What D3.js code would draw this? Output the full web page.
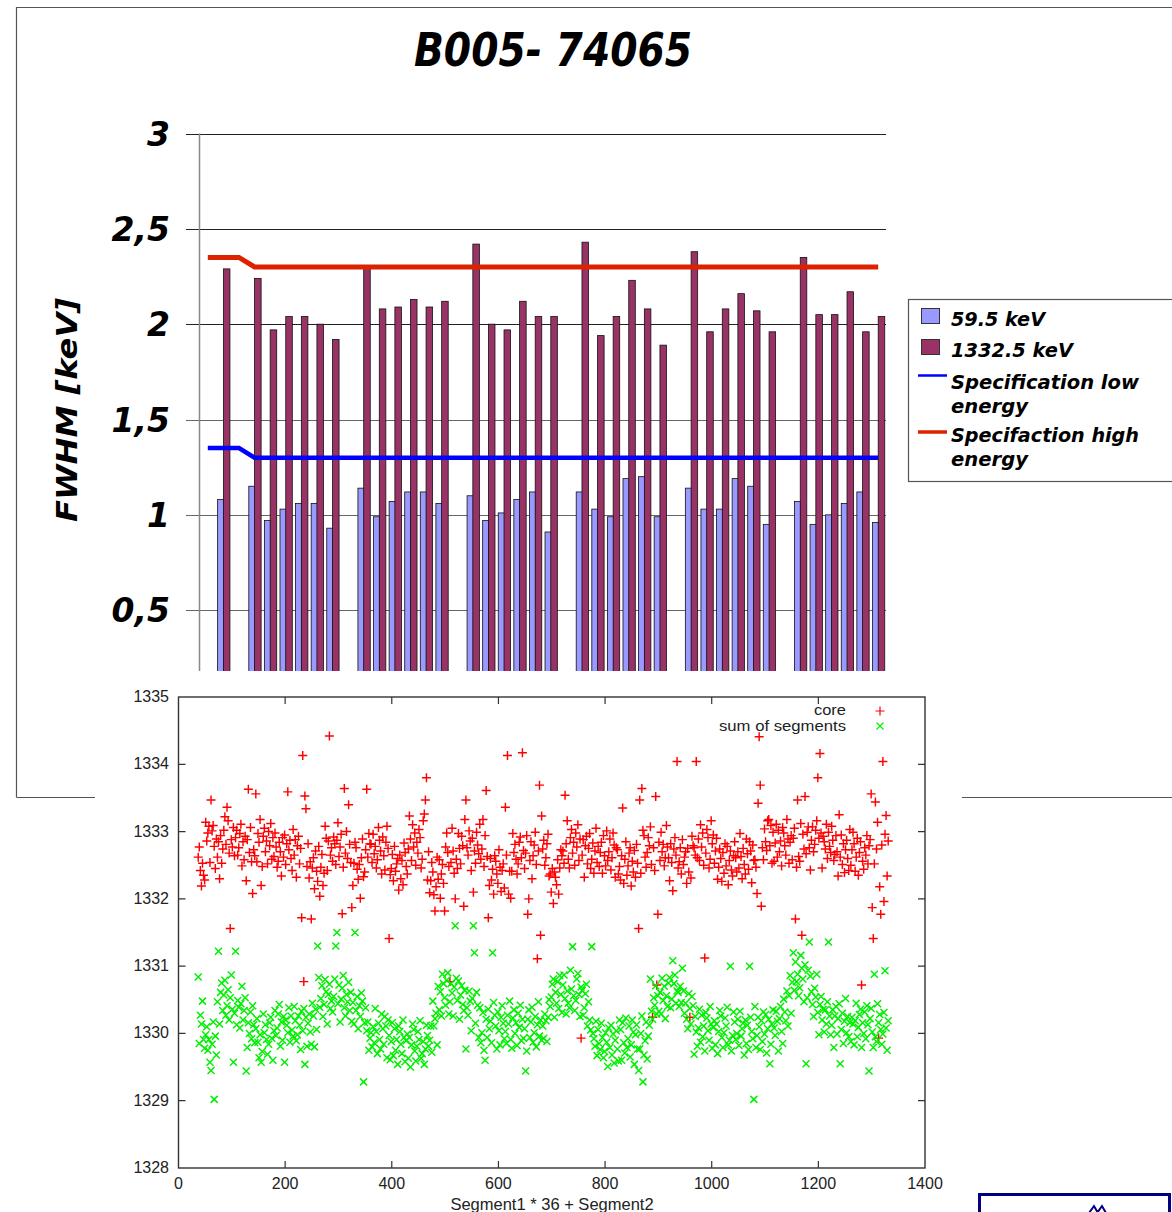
<!DOCTYPE html>
<html><head><meta charset="utf-8">
<script src="https://cdn.jsdelivr.net/npm/d3@7"></script>
<style>body{margin:0;background:#fff}svg{display:block}</style>
</head><body>
<svg id="c" width="1172" height="1212"></svg>
<script>
// ---------- top chart data (FWHM per channel) ----------
const slots = ["","core","","A1","A2","A3","A4","A5","A6","","B1","B2","B3","B4","B5","B6","","C1","C2","C3","C4","C5","C6","","D1","D2","D3","D4","D5","D6","","E1","E2","E3","E4","E5","E6","","F1","F2","F3","F4","F5","F6"];
const lowE = [null,1.08,null,1.15,0.97,1.03,1.06,1.06,0.93,null,1.14,0.99,1.07,1.12,1.12,1.06,null,1.10,0.97,1.01,1.08,1.12,0.91,null,1.12,1.03,0.99,1.19,1.20,0.99,null,1.14,1.03,1.03,1.19,1.15,0.95,null,1.07,0.95,1.00,1.06,1.12,0.96];
const highE = [null,2.29,null,2.24,1.97,2.04,2.04,2.00,1.92,null,2.30,2.08,2.09,2.13,2.09,2.12,null,2.42,2.00,1.97,2.12,2.04,2.04,null,2.43,1.94,2.04,2.23,2.08,1.89,null,2.38,1.96,2.08,2.16,2.07,1.96,null,2.35,2.05,2.05,2.17,1.96,2.04];
const specLow = [1.35,1.35,1.35,1.3,1.3,1.3,1.3,1.3,1.3,1.3,1.3,1.3,1.3,1.3,1.3,1.3,1.3,1.3,1.3,1.3,1.3,1.3,1.3,1.3,1.3,1.3,1.3,1.3,1.3,1.3,1.3,1.3,1.3,1.3,1.3,1.3,1.3,1.3,1.3,1.3,1.3,1.3,1.3,1.3];
const specHigh = [2.35,2.35,2.35,2.3,2.3,2.3,2.3,2.3,2.3,2.3,2.3,2.3,2.3,2.3,2.3,2.3,2.3,2.3,2.3,2.3,2.3,2.3,2.3,2.3,2.3,2.3,2.3,2.3,2.3,2.3,2.3,2.3,2.3,2.3,2.3,2.3,2.3,2.3,2.3,2.3,2.3,2.3,2.3,2.3];
const yTicks = [0.5,1,1.5,2,2.5,3];
const yTickLabels = ["0,5","1","1,5","2","2,5","3"];
const legendLabels = ["59.5 keV","1332.5 keV","Specification low","energy","Specifaction high","energy"];

// ---------- lower chart data (peak position vs Segment1*36+Segment2) ----------
const scatterX0 = 37, scatterStep = 2;
const core = [
1332.62,1332.77,1332.42,1332.19,1332.53,1332.35,1332.28,1333.14,1332.86,1332.98,1333.08,1332.54,1333.47,1333.01,1333.09,1332.78,1332.45,1332.89,
1332.62,1332.85,1332.30,1332.94,1332.53,1332.74,1333.02,1333.22,1332.81,1333.36,1333.16,1332.68,1331.56,1332.88,1332.77,1333.06,1332.64,1332.91,
1333.02,1332.65,1332.76,1332.97,1333.11,1332.49,1332.85,1332.58,1332.93,1332.27,1332.88,1333.63,1332.69,1333.06,1332.55,1332.08,1332.73,1332.64,
1333.56,1332.55,1332.97,1332.84,1333.18,1332.20,1332.48,1332.93,1333.05,1332.70,1332.86,1332.52,1333.00,1332.79,1333.12,1332.59,1332.91,1332.63,
1332.98,1332.77,1332.47,1332.56,1332.84,1332.70,1332.34,1332.91,1332.62,1332.95,1332.51,1332.82,1333.59,1332.73,1332.87,1332.60,1332.42,1333.03,
1332.65,1332.88,1332.32,1332.79,1332.93,1332.52,1332.75,1331.72,1334.13,1330.77,1333.53,1333.34,1332.48,1332.82,1332.31,1332.55,1331.70,1332.46,
1332.61,1332.15,1332.71,1332.41,1332.26,1332.78,1332.04,1332.47,1332.66,1332.20,1332.38,1333.08,1332.90,1332.42,1332.86,1334.42,1332.65,1332.76,
1332.56,1332.92,1332.82,1332.51,1332.87,1333.13,1332.63,1332.77,1332.96,1331.78,1332.47,1333.64,1332.68,1333.00,1332.60,1333.40,1332.81,1332.54,
1331.87,1332.20,1332.53,1332.84,1332.76,1332.44,1332.29,1332.51,1332.01,1332.61,1332.89,1332.33,1332.40,1332.73,1333.63,1332.62,1332.97,1332.82,
1332.81,1332.54,1332.96,1332.67,1332.78,1332.46,1332.58,1333.06,1332.87,1332.71,1332.37,1332.92,1332.64,1332.43,1332.84,1333.08,1332.75,1331.41,
1332.36,1332.45,1332.66,1332.27,1332.78,1332.41,1332.52,1332.60,1332.13,1332.65,1332.30,1332.57,1332.21,1332.83,1332.69,1332.48,1332.37,1332.74,
1333.23,1332.89,1332.57,1333.10,1332.77,1332.98,1332.50,1332.84,1332.68,1333.03,1332.91,1332.46,1332.59,1333.16,1333.26,1333.47,1333.80,1332.28,
1332.70,1332.09,1332.27,1332.54,1332.40,1332.06,1331.82,1332.18,1332.62,1332.29,1332.58,1332.01,1332.37,1332.51,1332.23,1331.82,1332.77,1332.98,
1332.69,1332.48,1330.77,1332.54,1333.05,1332.71,1332.38,1332.00,1332.59,1332.45,1332.97,1332.75,1332.52,1332.93,1332.79,1331.89,1333.18,1333.47,
1332.76,1332.65,1333.01,1332.86,1332.42,1332.90,1332.10,1332.71,1332.53,1332.99,1332.80,1332.67,1333.11,1332.59,1332.74,1333.18,1332.48,1332.94,
1333.61,1332.63,1331.72,1332.20,1332.60,1332.28,1332.44,1332.07,1332.64,1332.56,1332.37,1332.23,1332.73,1332.47,1332.11,1332.42,1332.52,1332.16,
1333.36,1332.65,1334.13,1332.07,1332.41,1332.01,1332.41,1332.97,1332.69,1332.81,1332.59,1332.37,1332.52,1332.84,1332.92,1332.61,1334.17,1332.72,
1332.45,1332.68,1332.94,1331.77,1332.00,1332.57,1332.85,1332.30,1332.64,1332.80,1332.99,1332.51,1331.11,1332.71,1333.69,1331.46,1333.23,1332.74,
1332.87,1332.50,1332.61,1332.82,1332.96,1332.34,1332.37,1332.10,1332.45,1331.93,1332.40,1332.32,1332.21,1332.58,1332.07,1332.46,1332.73,1332.64,
1332.71,1332.53,1333.54,1332.82,1333.16,1332.59,1332.46,1332.91,1333.03,1332.68,1332.84,1332.50,1332.98,1332.77,1333.10,1332.57,1332.89,1329.93,
1332.65,1332.88,1332.32,1332.79,1332.93,1332.52,1332.75,1332.97,1332.45,1332.59,1332.83,1332.38,1332.71,1333.05,1332.54,1332.78,1332.48,1332.69,
1332.84,1332.38,1332.94,1332.64,1332.49,1333.01,1332.57,1332.70,1332.89,1332.43,1332.61,1332.98,1332.80,1332.32,1332.76,1332.73,1332.37,1332.48,
1332.28,1332.64,1333.35,1332.23,1332.59,1332.85,1332.35,1332.49,1332.68,1332.76,1332.19,1332.56,1332.40,1332.72,1332.32,1332.81,1332.53,1331.56,
1333.47,1332.38,1333.64,1333.02,1332.94,1332.62,1332.47,1332.69,1332.91,1332.79,1333.07,1332.51,1330.24,1332.76,1332.42,1333.52,1330.72,1331.77,
1332.84,1332.57,1332.99,1332.70,1332.81,1332.49,1332.61,1333.09,1332.77,1332.61,1332.27,1332.82,1332.54,1332.12,1332.74,1332.91,1332.65,1334.04,
1332.46,1332.55,1332.76,1332.37,1332.88,1332.51,1332.62,1332.70,1332.23,1332.75,1332.40,1330.24,1332.31,1332.93,1332.79,1332.76,1332.65,1334.04,
1332.61,1332.89,1332.57,1333.10,1332.77,1332.98,1332.50,1331.12,1332.68,1333.03,1332.91,1332.46,1332.59,1333.16,1332.82,1332.95,1332.53,1332.71,
1332.90,1332.29,1332.47,1332.74,1332.60,1332.26,1332.69,1332.38,1332.82,1332.49,1332.78,1332.21,1332.57,1332.71,1332.43,1332.34,1332.64,1332.85,
1332.61,1332.40,1332.70,1332.46,1332.97,1332.63,1332.30,1332.75,1332.51,1332.37,1332.89,1332.67,1332.44,1332.85,1332.71,1332.24,1332.80,1332.57,
1332.58,1332.47,1332.08,1333.42,1334.41,1333.69,1331.89,1332.76,1332.58,1333.04,1332.85,1332.72,1333.16,1333.18,1332.79,1333.09,1332.53,1332.99,
1332.56,1332.83,1333.11,1332.62,1333.02,1332.70,1332.86,1332.49,1333.06,1332.98,1332.79,1332.65,1333.18,1332.89,1332.53,1332.84,1332.94,1332.58,
1332.90,1333.05,1331.70,1332.47,1333.47,1332.63,1332.56,1333.12,1331.46,1332.96,1332.74,1333.52,1332.67,1332.99,1333.07,1332.76,1332.43,1332.87,
1333.07,1332.70,1332.81,1333.02,1333.16,1333.80,1332.90,1334.16,1332.98,1332.46,1332.93,1332.85,1332.74,1333.11,1332.60,1332.99,1332.78,1332.69,
1333.08,1332.87,1332.57,1332.66,1332.94,1332.70,1332.34,1333.25,1332.62,1332.95,1332.51,1332.82,1332.39,1332.73,1332.87,1332.60,1332.42,1333.03,
1332.50,1332.73,1332.99,1332.82,1332.41,1332.62,1332.90,1332.35,1332.69,1332.85,1330.72,1332.56,1332.44,1332.76,1332.65,1332.94,1332.52,1332.79,
1332.88,1333.56,1331.87,1331.41,1332.52,1333.44,1332.74,1333.14,1329.93,1332.18,1331.77,1332.80,1334.04,1331.96,1332.96,1333.24,1332.34,1332.86];
const sumSeg = [
1330.84,1329.85,1330.27,1330.14,1330.48,1329.91,1329.78,1329.98,1330.10,1329.75,1329.91,1329.57,1329.45,1329.84,1330.17,1329.02,1329.96,1329.68,
1330.47,1331.22,1330.14,1330.61,1330.75,1330.34,1330.57,1330.79,1330.27,1330.41,1330.65,1330.20,1330.53,1330.87,1330.36,1329.57,1330.30,1331.22,
1330.13,1330.49,1330.39,1330.08,1330.44,1330.70,1330.20,1330.34,1330.53,1329.44,1329.79,1330.16,1330.00,1330.32,1329.92,1330.41,1330.13,1329.86,
1330.07,1330.22,1329.87,1329.64,1329.98,1329.57,1329.73,1330.29,1330.01,1330.13,1329.91,1329.69,1329.84,1330.16,1330.24,1329.93,1329.60,1330.04,
1330.34,1329.97,1330.08,1330.29,1330.43,1329.81,1330.17,1329.90,1330.25,1329.57,1330.20,1330.12,1330.01,1330.38,1329.87,1330.26,1330.05,1329.96,
1330.40,1330.19,1329.89,1329.98,1330.26,1330.12,1329.76,1330.33,1330.04,1330.37,1329.54,1330.24,1329.81,1330.15,1330.29,1330.02,1329.84,1330.45,
1330.26,1329.80,1330.36,1330.06,1331.30,1330.83,1330.39,1330.52,1330.71,1330.25,1330.43,1330.80,1330.62,1330.14,1330.58,1330.73,1330.37,1330.48,
1330.32,1330.55,1330.81,1331.30,1331.50,1330.44,1330.72,1330.17,1330.51,1330.67,1330.86,1330.38,1330.26,1330.58,1330.47,1330.76,1330.34,1330.61,
1330.18,1330.46,1330.14,1331.50,1330.34,1330.55,1330.07,1330.41,1330.25,1330.60,1330.48,1329.28,1330.16,1330.38,1330.04,1330.17,1329.75,1329.93,
1330.01,1329.80,1330.10,1329.86,1330.37,1330.03,1329.70,1330.15,1329.91,1329.77,1330.29,1330.07,1329.84,1330.25,1330.11,1329.64,1330.20,1329.97,
1329.61,1329.88,1330.16,1329.67,1330.07,1329.75,1329.91,1329.54,1330.11,1330.03,1329.84,1329.70,1330.20,1329.94,1329.58,1329.89,1329.99,1329.63,
1329.94,1329.50,1329.83,1330.14,1330.06,1329.74,1329.59,1329.81,1330.03,1329.91,1330.19,1329.63,1329.70,1329.88,1329.54,1329.77,1330.12,1329.97,
1329.81,1329.90,1330.11,1329.72,1330.48,1330.11,1330.22,1330.30,1329.83,1330.70,1330.35,1330.62,1330.26,1330.88,1330.74,1330.53,1330.42,1330.79,
1330.90,1330.29,1330.47,1330.74,1330.60,1330.26,1330.69,1331.60,1330.82,1330.49,1330.78,1330.21,1330.57,1330.71,1330.43,1330.34,1330.64,1329.77,
1330.38,1330.27,1330.63,1330.48,1330.04,1330.52,1331.60,1331.20,1330.15,1330.61,1330.42,1329.94,1330.38,1329.86,1330.01,1330.31,1329.75,1329.60,
1330.21,1329.94,1330.36,1330.07,1330.18,1329.86,1331.20,1330.46,1330.27,1330.11,1329.77,1330.32,1330.04,1329.83,1330.24,1330.41,1330.15,1329.92,
1330.03,1329.85,1330.27,1330.14,1330.48,1329.91,1329.78,1330.23,1330.35,1330.00,1330.16,1329.82,1330.30,1330.09,1330.42,1329.89,1330.21,1329.93,
1330.07,1329.44,1329.74,1330.21,1330.35,1329.94,1330.17,1330.39,1329.87,1330.01,1330.25,1329.80,1330.13,1330.47,1329.96,1330.20,1329.90,1330.11,
1329.93,1330.29,1330.19,1329.88,1330.24,1330.50,1330.40,1330.54,1330.73,1330.81,1330.24,1330.61,1330.45,1330.77,1330.37,1330.86,1330.58,1330.31,
1330.72,1330.87,1330.52,1330.29,1330.63,1330.45,1330.38,1330.94,1330.66,1331.29,1330.56,1330.34,1330.49,1330.81,1330.89,1330.58,1330.25,1330.69,
1330.64,1330.27,1330.38,1330.59,1330.73,1330.11,1330.47,1330.20,1330.05,1331.29,1330.00,1329.92,1329.81,1330.18,1329.67,1330.06,1329.85,1329.76,
1330.15,1329.94,1329.64,1329.73,1330.01,1329.87,1329.51,1330.08,1329.79,1330.12,1329.68,1329.99,1329.56,1329.90,1330.04,1329.77,1329.59,1330.20,
1330.06,1329.60,1330.16,1329.86,1329.71,1330.23,1329.79,1329.92,1330.11,1329.65,1329.83,1330.20,1330.02,1329.54,1329.98,1330.13,1329.77,1329.45,
1329.77,1330.00,1330.26,1329.28,1329.68,1329.89,1330.17,1329.62,1329.96,1330.12,1330.81,1330.33,1330.21,1330.53,1330.42,1330.71,1330.29,1330.56,
1330.33,1330.61,1330.29,1330.82,1330.49,1330.70,1330.22,1330.56,1330.40,1330.75,1330.83,1330.38,1330.51,1331.08,1330.74,1330.87,1330.45,1330.63,
1330.61,1330.40,1330.70,1330.46,1330.97,1330.63,1330.30,1330.45,1330.21,1330.07,1330.59,1330.37,1330.14,1330.55,1330.41,1329.69,1330.25,1330.02,
1329.81,1330.08,1330.36,1329.87,1330.27,1329.95,1330.11,1329.74,1330.31,1330.23,1330.04,1329.90,1330.40,1330.14,1329.78,1330.09,1330.19,1329.83,
1330.14,1329.70,1330.03,1330.34,1330.26,1329.94,1329.79,1330.01,1330.23,1330.11,1330.39,1329.83,1329.90,1331.00,1329.74,1329.97,1330.32,1330.17,
1329.91,1330.00,1330.21,1329.82,1330.33,1329.96,1330.07,1330.15,1329.68,1330.20,1329.85,1330.12,1329.76,1331.00,1330.24,1330.03,1329.92,1329.02,
1330.40,1329.79,1329.97,1330.24,1330.10,1329.76,1330.19,1329.88,1330.32,1329.99,1330.28,1329.71,1330.07,1330.21,1329.55,1329.84,1330.14,1330.35,
1330.08,1329.97,1330.33,1330.18,1329.74,1330.22,1330.40,1330.03,1329.85,1330.51,1330.32,1330.19,1330.63,1330.11,1330.56,1330.86,1330.30,1330.76,
1331.20,1330.64,1331.06,1330.77,1330.88,1330.56,1330.68,1331.16,1330.97,1330.81,1330.47,1331.02,1329.55,1330.53,1330.94,1331.36,1330.85,1330.62,
1330.43,1330.25,1330.67,1330.54,1330.88,1330.31,1329.98,1330.43,1330.55,1330.20,1330.36,1330.02,1330.35,1330.14,1330.47,1331.36,1330.26,1329.98,
1330.12,1330.35,1329.79,1330.26,1330.40,1329.99,1330.22,1330.44,1329.55,1330.06,1330.30,1329.85,1330.18,1330.52,1330.01,1330.25,1329.95,1330.16,
1329.88,1330.24,1330.14,1329.83,1330.19,1330.45,1329.95,1330.09,1330.28,1330.36,1329.79,1330.16,1330.00,1330.32,1329.92,1330.41,1330.13,1329.44,
1330.22,1330.37,1330.02,1329.79,1330.88,1329.95,1329.88,1330.44,1330.16,1330.28,1330.06,1329.84,1329.99,1330.31,1330.93,1330.08,1329.75,1330.19];
const scXTicks = [0,200,400,600,800,1000,1200,1400];
const scYTicks = [1328,1329,1330,1331,1332,1333,1334,1335];
const scLegend = ["core","sum of segments"];

// ---------- drawing ----------
const svg = d3.select("#c");
const BI = "'DejaVu Sans', Verdana, sans-serif";

// slide frame
svg.append("path").attr("d","M16.5,797.5V7.5H1180M16.5,797.5H100M960,797.5H1180")
  .attr("fill","none").attr("stroke","#555").attr("stroke-width",1.2);

// title
svg.append("text").attr("x",553).attr("y",66).attr("text-anchor","middle")
  .attr("font-family","'DejaVu Sans Condensed','DejaVu Sans',sans-serif").attr("font-weight","bold").attr("font-style","italic")
  .attr("font-size",46).attr("textLength",278).attr("lengthAdjust","spacingAndGlyphs")
  .text("B005- 74065");

// bar chart scales
const xb = d3.scaleBand().domain(d3.range(slots.length)).range([200,886]).padding(0);
const yb = d3.scaleLinear().domain([0,3]).range([705.5,133.5]);
const w = xb.bandwidth();
const topG = svg.append("g");

topG.selectAll("line.grid").data(yTicks).join("line")
  .attr("x1",186).attr("x2",886).attr("y1",d=>Math.round(yb(d))+0.5).attr("y2",d=>Math.round(yb(d))+0.5)
  .attr("stroke",d=>d>=2?"#222":"#666").attr("stroke-width",1.2);
topG.append("line").attr("x1",199.5).attr("x2",199.5).attr("y1",yb(3)).attr("y2",680)
  .attr("stroke","#888").attr("stroke-width",1.5);

topG.selectAll("text.yt").data(yTicks).join("text")
  .attr("x",170).attr("y",d=>yb(d)+12).attr("text-anchor","end")
  .attr("font-family",BI).attr("font-weight","bold").attr("font-style","italic").attr("font-size",33)
  .text((d,i)=>yTickLabels[i]);

topG.append("text").attr("transform","translate(77,410) rotate(-90)").attr("text-anchor","middle")
  .attr("font-family",BI).attr("font-weight","bold").attr("font-style","italic").attr("font-size",28)
  .attr("textLength",224).attr("lengthAdjust","spacingAndGlyphs").text("FWHM [keV]");

const idx = d3.range(slots.length);
topG.selectAll("rect.lo").data(idx.filter(i=>lowE[i]!=null)).join("rect")
  .attr("x",i=>xb(i)+w*0.13).attr("width",w*0.40)
  .attr("y",i=>yb(lowE[i])).attr("height",i=>yb(0)-yb(lowE[i]))
  .attr("fill","#9999ff").attr("stroke","#111").attr("stroke-width",0.8);
topG.selectAll("rect.hi").data(idx.filter(i=>highE[i]!=null)).join("rect")
  .attr("x",i=>xb(i)+w*0.50).attr("width",w*0.42)
  .attr("y",i=>yb(highE[i])).attr("height",i=>yb(0)-yb(highE[i]))
  .attr("fill","#993366").attr("stroke","#111").attr("stroke-width",0.8);

const lineGen = arr => d3.line().x(i=>xb(i)+w/2).y(i=>yb(arr[i]))(idx);
topG.append("path").attr("d",lineGen(specHigh)).attr("fill","none").attr("stroke","#dd2200").attr("stroke-width",5);
topG.append("path").attr("d",lineGen(specLow)).attr("fill","none").attr("stroke","#0000ff").attr("stroke-width",4.5);

// legend
const lg = svg.append("g");
lg.append("rect").attr("x",908.5).attr("y",299.5).attr("width",300).attr("height",182)
  .attr("fill","#fff").attr("stroke","#555").attr("stroke-width",1.2);
lg.append("rect").attr("x",921.5).attr("y",308.5).attr("width",18).attr("height",15).attr("fill","#9999ff").attr("stroke","#333");
lg.append("rect").attr("x",921.5).attr("y",339.5).attr("width",18).attr("height",15).attr("fill","#993366").attr("stroke","#333");
lg.append("line").attr("x1",918).attr("x2",947).attr("y1",375.5).attr("y2",375.5).attr("stroke","#0000ff").attr("stroke-width",2.5);
lg.append("line").attr("x1",918).attr("x2",947).attr("y1",432).attr("y2",432).attr("stroke","#dd2200").attr("stroke-width",3.5);
const lgY = [326,357,389,413,442,466];
const lgW = [94,122,188,77,188,77];
lg.selectAll("text").data(legendLabels).join("text")
  .attr("x",951).attr("y",(d,i)=>lgY[i])
  .attr("font-family",BI).attr("font-weight","bold").attr("font-style","italic").attr("font-size",20)
  .attr("textLength",(d,i)=>lgW[i]).attr("lengthAdjust","spacingAndGlyphs").text(d=>d);

// ---------- lower chart ----------
svg.append("rect").attr("x",95).attr("y",671).attr("width",867).attr("height",560).attr("fill","#fff");
const xs = d3.scaleLinear().domain([0,1400]).range([178.5,925]);
const ys = d3.scaleLinear().domain([1328,1335]).range([1168,697]);
const sc = svg.append("g");
const AX = "#333";
sc.selectAll("path.tx").data(scXTicks.slice(1,-1)).join("path")
  .attr("d",d=>`M${xs(d)},1168V1161M${xs(d)},697V704`).attr("stroke",AX).attr("stroke-width",1.2);
sc.selectAll("path.ty").data(scYTicks.slice(1,-1)).join("path")
  .attr("d",d=>`M178.5,${ys(d)}H185.5M925,${ys(d)}H918`).attr("stroke",AX).attr("stroke-width",1.2);
sc.append("rect").attr("x",178.5).attr("y",697).attr("width",925-178.5).attr("height",1168-697)
  .attr("fill","none").attr("stroke",AX).attr("stroke-width",1.4);
const LF = "'Liberation Sans', Arial, sans-serif";
sc.selectAll("text.xl").data(scXTicks).join("text")
  .attr("x",d=>xs(d)).attr("y",1189).attr("text-anchor","middle")
  .attr("font-family",LF).attr("font-size",16).attr("fill","#222").text(d=>d);
sc.selectAll("text.yl").data(scYTicks).join("text")
  .attr("x",169).attr("y",d=>ys(d)+5).attr("text-anchor","end")
  .attr("font-family",LF).attr("font-size",16).attr("fill","#222").text(d=>d);
sc.append("text").attr("x",552).attr("y",1210).attr("text-anchor","middle")
  .attr("font-family",LF).attr("font-size",16.5).attr("fill","#222").text("Segment1 * 36 + Segment2");

const plusP = "M-4.5,0H4.5M0,-4.5V4.5";
const crossP = "M-3.5,-3.5L3.5,3.5M-3.5,3.5L3.5,-3.5";
sc.append("g").selectAll("path").data(core).join("path")
  .attr("transform",(d,i)=>`translate(${xs(scatterX0+i*scatterStep)},${ys(d)})`)
  .attr("d",plusP).attr("stroke","#ff0000").attr("stroke-width",1.45).attr("fill","none");
sc.append("g").selectAll("path").data(sumSeg).join("path")
  .attr("transform",(d,i)=>`translate(${xs(scatterX0+i*scatterStep)},${ys(d)})`)
  .attr("d",crossP).attr("stroke","#00ee00").attr("stroke-width",1.45).attr("fill","none");

// scatter legend
const scLegW = [32,127];
sc.selectAll("text.lg").data(scLegend).join("text")
  .attr("x",846).attr("y",(d,i)=>715+i*16).attr("text-anchor","end")
  .attr("font-family",LF).attr("font-size",14).attr("fill","#222")
  .attr("textLength",(d,i)=>scLegW[i]).attr("lengthAdjust","spacingAndGlyphs").text(d=>d);
sc.append("path").attr("transform","translate(880,711)").attr("d",plusP).attr("stroke","#ff0000").attr("stroke-width",1.2);
sc.append("path").attr("transform","translate(880,726)").attr("d",crossP).attr("stroke","#00ee00").attr("stroke-width",1.2);

// corner logo box
svg.append("rect").attr("x",979.5).attr("y",1194.5).attr("width",190).attr("height",40)
  .attr("fill","#fff").attr("stroke","#000080").attr("stroke-width",3);
svg.append("path").attr("d","M1089,1213L1094,1206L1098,1213M1097,1213L1102,1206L1106,1213")
  .attr("fill","none").attr("stroke","#000080").attr("stroke-width",2);
</script>
</body></html>
